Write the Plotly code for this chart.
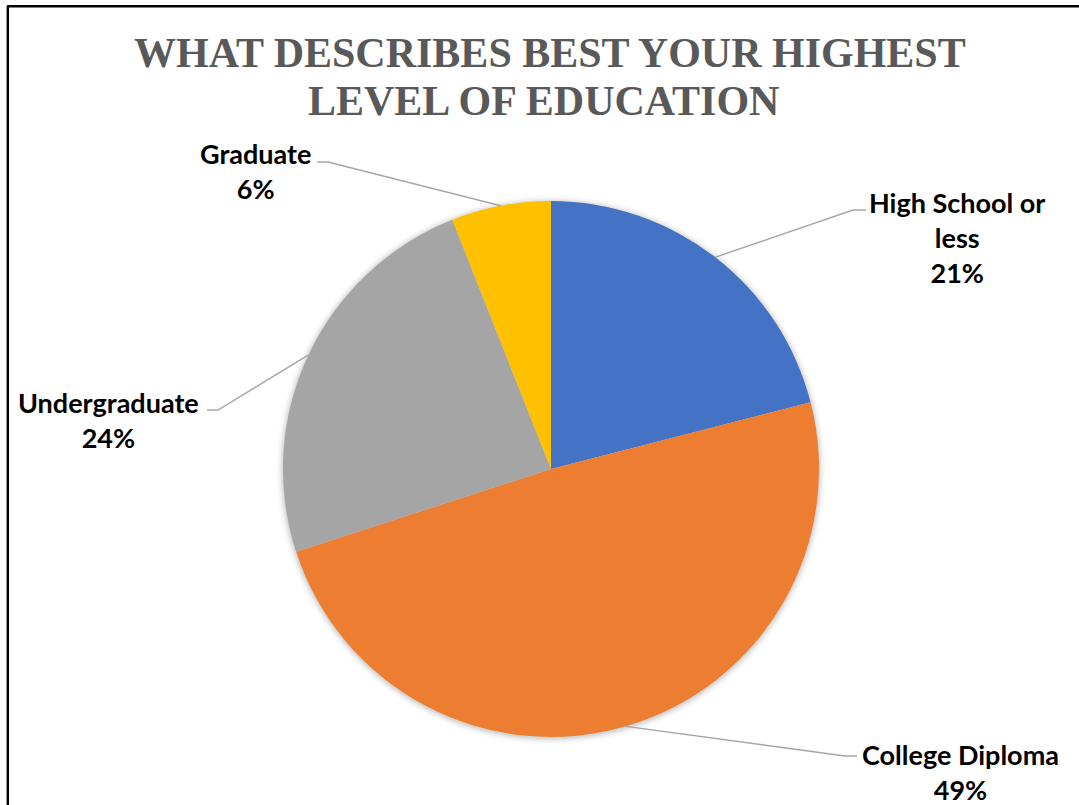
import math
import plotly.graph_objects as go

# Survey results: highest level of education
categories = ["High School or less", "College Diploma", "Undergraduate", "Graduate"]
values = [21, 49, 24, 6]
colors = ["#4472C4", "#ED7D31", "#A5A5A5", "#FFC000"]
label_lines = [["High School or", "less"], ["College Diploma"], ["Undergraduate"], ["Graduate"]]

W, H = 1079, 805

def px(x):
    return x / W

def py(y):
    return 1 - y / H

# Pie geometry in pixels
cx, cy, r = 551, 469, 268

# Label block centres and leader-line elbows (pixels)
label_pos = [(957, 237), (960, 772), (108, 420), (255, 171)]
elbows = [((853, 210), (866, 210)), ((845, 756), (857, 756)),
          ((218, 410), (207, 410)), ((328, 162), (317, 162))]

fig = go.Figure()
fig.add_trace(go.Pie(
    labels=categories,
    values=values,
    marker=dict(colors=colors, line=dict(width=0)),
    sort=False,
    direction="clockwise",
    rotation=0,
    textinfo="none",
    hoverinfo="label+percent",
    showlegend=False,
    domain=dict(x=[px(cx - r), px(cx + r)], y=[py(cy + r), py(cy - r)]),
))

shapes = []
# soft shadow around the pie
for i, a in enumerate([0.05, 0.04, 0.03, 0.02, 0.012, 0.006]):
    rr = r + 1 + i * 1.3
    shapes.append(dict(type="circle", xref="paper", yref="paper", layer="below",
                       x0=px(cx - rr), x1=px(cx + rr), y0=py(cy + rr + 1), y1=py(cy - rr + 1),
                       fillcolor=f"rgba(0,0,0,{a})", line=dict(width=0)))

# leader lines from the slice midpoints to the labels
total = sum(values)
cum = 0
annotations = []
for i, v in enumerate(values):
    theta = 2 * math.pi * (cum + v / 2) / total
    cum += v
    ex = cx + r * math.sin(theta)
    ey = cy - r * math.cos(theta)
    (bx, by), (tx, ty) = elbows[i]
    shapes.append(dict(type="path", xref="paper", yref="paper", layer="above",
                       path=f"M {px(ex)},{py(ey)} L {px(bx)},{py(by)} L {px(tx)},{py(ty)}",
                       line=dict(color="#A6A6A6", width=1.4)))
    pct = round(100 * v / total)
    text = "<br>".join(label_lines[i] + [f"{pct}%"])
    lx, ly = label_pos[i]
    annotations.append(dict(x=px(lx), y=py(ly), xref="paper", yref="paper",
                            text=f"<b>{text}</b>", showarrow=False,
                            xanchor="center", yanchor="middle", align="center",
                            font=dict(family="Lato", size=27, color="#000000")))

# title, two lines
title_font = dict(family="Liberation Serif", size=42, color="#595959")
annotations.append(dict(x=px(550), y=py(53), xref="paper", yref="paper", showarrow=False,
                        text="<b>WHAT DESCRIBES BEST YOUR HIGHEST</b>",
                        xanchor="center", yanchor="middle", font=title_font))
annotations.append(dict(x=px(543), y=py(101), xref="paper", yref="paper", showarrow=False,
                        text="<b>LEVEL OF EDUCATION</b>",
                        xanchor="center", yanchor="middle", font=title_font))

# chart frame (left and top edges)
shapes.append(dict(type="line", xref="paper", yref="paper", x0=px(7.8), x1=px(7.8),
                   y0=py(6), y1=py(H + 5), line=dict(color="#000000", width=2.4)))
shapes.append(dict(type="line", xref="paper", yref="paper", x0=px(7), x1=px(W + 5),
                   y0=py(6.2), y1=py(6.2), line=dict(color="#000000", width=2.4)))

fig.update_layout(
    width=W, height=H, autosize=False,
    margin=dict(l=0, r=0, t=0, b=0),
    paper_bgcolor="#FFFFFF", plot_bgcolor="#FFFFFF",
    shapes=shapes, annotations=annotations,
)

fig.write_html("out.html")
